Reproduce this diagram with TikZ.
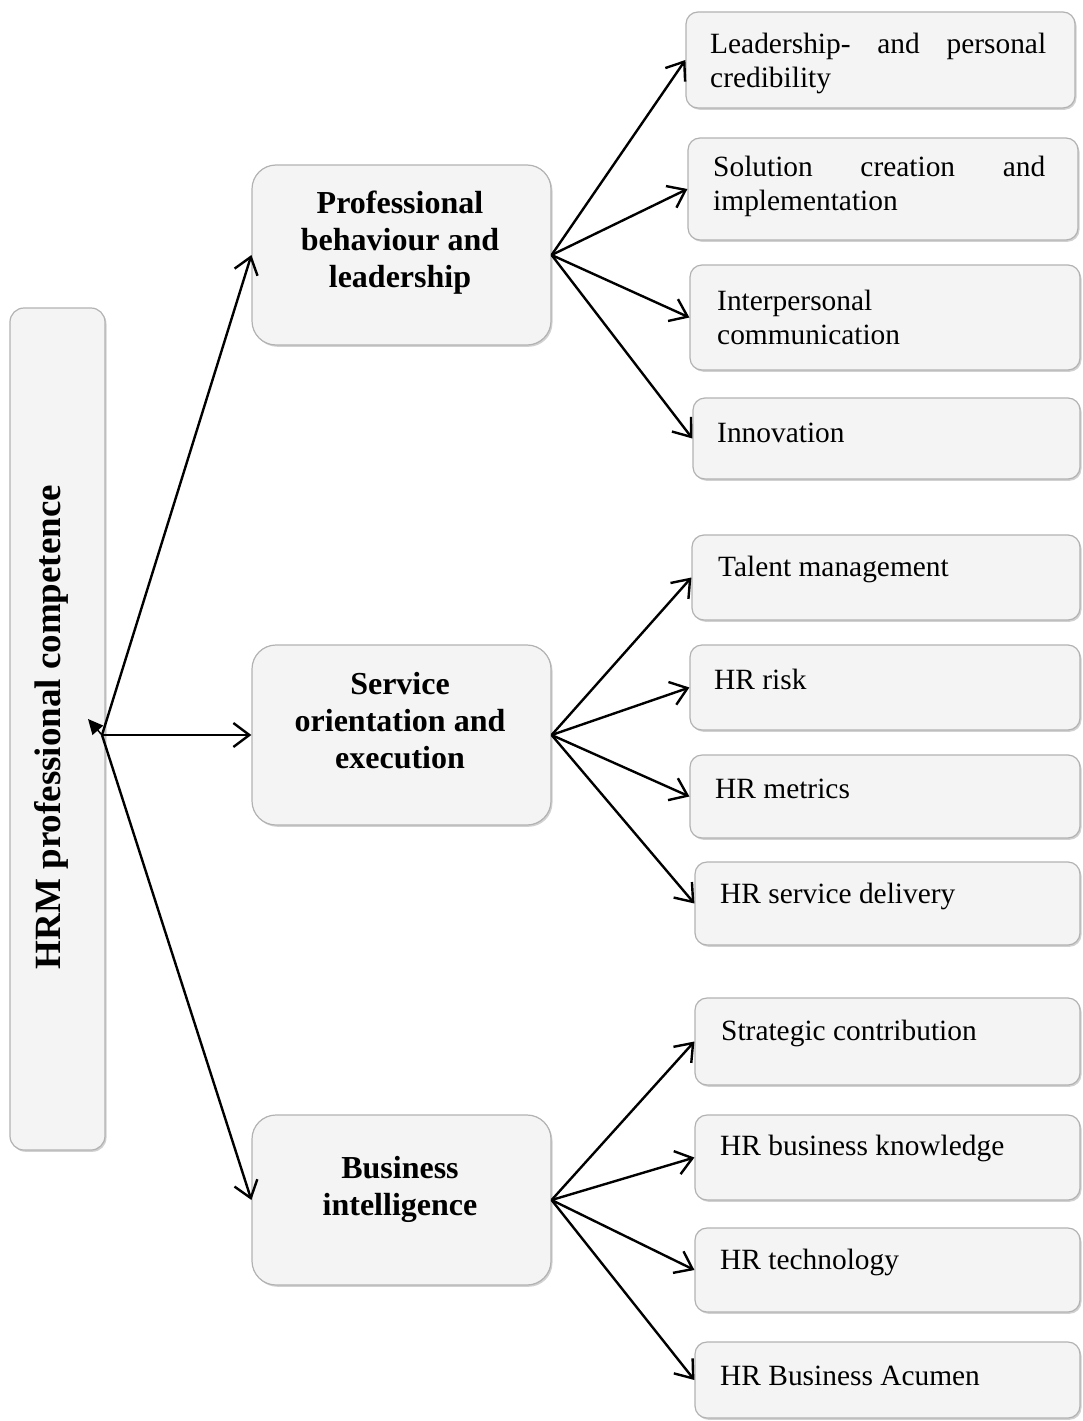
\documentclass[tikz,border=0pt]{standalone}
\usepackage{fontspec}
\setmainfont{Liberation Serif}
\usetikzlibrary{arrows.meta,shadows}
\begin{document}
\begin{tikzpicture}[x=1pt,y=-1pt,
  card/.style={rectangle, draw=gray!60, line width=1.2pt, fill=gray!9, inner sep=0pt,
    drop shadow={shadow xshift=1.5pt, shadow yshift=-1.8pt, fill=gray!60, opacity=.6}},
  rootbox/.style={card, rounded corners=14pt, minimum width=95pt, minimum height=842pt},
  groupbox/.style={card, rounded corners=24pt, minimum width=299pt},
  leafbox/.style={card, rounded corners=12pt},
  roottext/.style={font=\fontsize{37}{40}\selectfont\bfseries, rotate=90, inner sep=0pt},
  grouptext/.style={font=\fontsize{32}{37}\selectfont\bfseries, align=center, inner sep=0pt},
  leaftext/.style={font=\fontsize{29.4}{34}\selectfont, anchor=west, inner sep=0pt},
  conn/.style={line width=2.4pt, -{Straight Barb[length=16pt,width=24pt,line width=2.4pt]}},
  jtip/.style={line width=1.5pt, -{Triangle[length=15pt,width=14pt]}}
]
\useasboundingbox (0,0) rectangle (1083,1421);

% root box
\node[rootbox] (hrm) at (57.5,729) {};
\node[roottext] (thrm) at (51,727) {HRM professional competence};

% group boxes
\node[groupbox, minimum height=180pt] (pb) at (401.5,255) {};
\node[groupbox, minimum height=180pt] (so) at (401.5,735) {};
\node[groupbox, minimum height=170pt] (bi) at (401.5,1200) {};
\node[grouptext] (tpb) at (400,243) {Professional\\behaviour and\\leadership};
\node[grouptext] (tso) at (400,721) {Service\\orientation and\\execution};
\node[grouptext] (tbi) at (400,1189) {Business\\intelligence};

% leaf boxes
\node[leafbox, minimum width=389pt, minimum height=96pt]  (r1)  at (880.5,60) {};
\node[leafbox, minimum width=390pt, minimum height=102pt] (r2)  at (883,189) {};
\node[leafbox, minimum width=390pt, minimum height=105pt] (r3)  at (885,317.5) {};
\node[leafbox, minimum width=387pt, minimum height=81pt]  (r4)  at (886.5,438.5) {};
\node[leafbox, minimum width=388pt, minimum height=85pt]  (r5)  at (886,577.5) {};
\node[leafbox, minimum width=390pt, minimum height=85pt]  (r6)  at (885,687.5) {};
\node[leafbox, minimum width=390pt, minimum height=83pt]  (r7)  at (885,796.5) {};
\node[leafbox, minimum width=385pt, minimum height=83pt]  (r8)  at (887.5,903.5) {};
\node[leafbox, minimum width=385pt, minimum height=87pt]  (r9)  at (887.5,1041.5) {};
\node[leafbox, minimum width=385pt, minimum height=85pt]  (r10) at (887.5,1157.5) {};
\node[leafbox, minimum width=385pt, minimum height=84pt]  (r11) at (887.5,1270) {};
\node[leafbox, minimum width=385pt, minimum height=76pt]  (r12) at (887.5,1380) {};

% leaf texts
\node[leaftext, text width=336pt, align=justify] (t1) at (710,63) {Leadership- and personal\linebreak credibility};
\node[leaftext, text width=332pt, align=justify] (t2) at (713,186) {Solution creation and\linebreak implementation};
\node[leaftext, align=left] (t3) at (717,317) {Interpersonal\\communication};
\node[leaftext] (t4)  at (717,433)  {Innovation};
\node[leaftext] (t5)  at (718,569)  {Talent management};
\node[leaftext] (t6)  at (714,679)  {HR risk};
\node[leaftext] (t7)  at (715,789)  {HR metrics};
\node[leaftext] (t8)  at (720,896)  {HR service delivery};
\node[leaftext] (t9)  at (721,1033) {Strategic contribution};
\node[leaftext] (t10) at (720,1148) {HR business knowledge};
\node[leaftext] (t11) at (720,1262) {HR technology};
\node[leaftext] (t12) at (720,1376) {HR Business Acumen};

% junction on the root box
\coordinate (j) at (102,735);
\coordinate (jt) at (88,719);
\draw[jtip] (j) -- (jt);

% connectors
\draw[conn] (j) -- (pb.west);
\draw[conn] (j) -- (so.west);
\draw[conn] (j) -- (bi.west);
\foreach \r in {r1,r2,r3,r4} \draw[conn] (pb.east) -- (\r.west);
\foreach \r in {r5,r6,r7,r8} \draw[conn] (so.east) -- (\r.west);
\foreach \r in {r9,r10,r11,r12} \draw[conn] (bi.east) -- (\r.west);
\end{tikzpicture}
\end{document}
